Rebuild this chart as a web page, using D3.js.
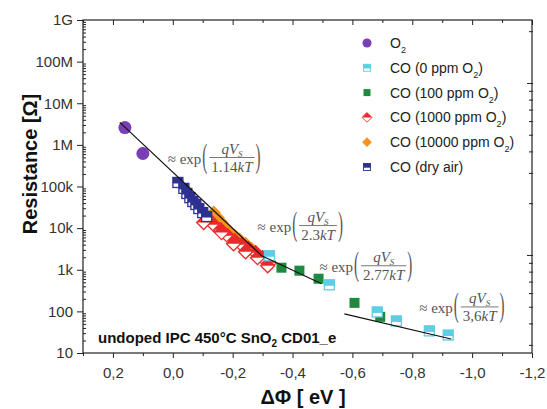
<!DOCTYPE html>
<html>
<head>
<meta charset="utf-8">
<script src="https://cdn.jsdelivr.net/npm/d3@7"></script>
<style>
  body { margin: 0; background: #fff; }
  svg { font-family: "Liberation Sans", Arial, sans-serif; }
  .serif { font-family: "Liberation Serif", "Times New Roman", serif; }
</style>
</head>
<body>
<svg id="chart" width="547" height="409"></svg>
<script>
// ---- values ----
const xTicks = [0.2, 0.0, -0.2, -0.4, -0.6, -0.8, -1.0, -1.2];
const yTicks = [1e1, 1e2, 1e3, 1e4, 1e5, 1e6, 1e7, 1e8, 1e9];
const yTickLabels = ["10", "100", "1k", "10k", "100k", "1M", "10M", "100M", "1G"];

// [deltaPhi (eV), resistance (ohm)]
const o2 = [[0.16, 2.6e6], [0.10, 6.2e5]];
const co0 = [[-0.323, 2170], [-0.523, 435], [-0.683, 97], [-0.747, 59], [-0.857, 34], [-0.92, 27]];
const co100 = [[-0.317, 1400], [-0.363, 1120], [-0.423, 950], [-0.487, 610], [-0.607, 160], [-0.693, 74]];
const co1000 = [[-0.117, 1.7e4], [-0.137, 1.2e4], [-0.16, 9200], [-0.183, 6600], [-0.207, 5000],
  [-0.23, 4000], [-0.253, 3200], [-0.277, 2570], [-0.30, 1950], [-0.323, 1480],
  [-0.103, 1.36e4], [-0.163, 7800], [-0.203, 4200], [-0.243, 2700], [-0.283, 1950], [-0.317, 1250]];
const co10000 = [[-0.137, 2.36e4], [-0.15, 1.8e4], [-0.163, 1.36e4], [-0.177, 1.03e4], [-0.19, 8200],
  [-0.207, 6600], [-0.223, 5300], [-0.243, 4200], [-0.263, 3200], [-0.31, 1650]];
const coDry = [[-0.017, 1.25e5], [-0.037, 9.0e4], [-0.047, 6.8e4], [-0.057, 5.4e4], [-0.067, 4.35e4],
  [-0.077, 3.7e4], [-0.087, 2.95e4], [-0.10, 2.36e4], [-0.113, 1.9e4]];

// fitted straight lines (end points)
const fit1 = [[0.177, 3.48e6], [-0.297, 2170]];
const fit2 = [[-0.297, 2170], [-0.497, 460]];
const fit3 = [[-0.573, 87], [-0.93, 21.7]];

// fit annotations: anchor and denominator factor
const annPhi = [0.017, -0.283, -0.49, -0.823];
const annR = [4.7e5, 1.09e4, 1180, 121];
const annFactor = ["1.14", "2.3", "2.77", "3,6"];

const legendNames = ["O|2", "CO (0 ppm O|2|)", "CO (100 ppm O|2|)", "CO (1000 ppm O|2|)", "CO (10000 ppm O|2|)", "CO (dry air)"];

// ---- chart ----
let svg = d3.select("#chart");
let pLeft = 83, pRight = 532, pTop = 20, pBottom = 353;

let x = d3.scaleLinear().domain([0.3, -1.2]).range([pLeft, pRight]);
let y = d3.scaleLog().domain([10, 1e9]).range([pBottom, pTop]);
let yRight = d3.scaleLog().domain([Math.pow(10, -0.57), Math.pow(10, 1.366)]).range([pBottom, pTop]);

let fmt = d => d3.format(".1f")(d).replace(".", ",").replace("\u2212", "-");
let minorX = d3.range(0.3, -1.21, -0.1).map(v => +v.toFixed(1)).filter(v => Math.round(v * 10) % 2 !== 0);
let minorY = [];
yTicks.slice(0, -1).forEach(d => { for (let k = 2; k < 10; k++) minorY.push(d * k); });

function styleAxis(g) {
  g.select(".domain").remove();
  g.selectAll("line").attr("stroke", "#222");
  g.selectAll("text").attr("fill", "#333").attr("font-size", 15);
}

// bottom
svg.append("g").attr("transform", `translate(0,${pBottom})`)
  .call(d3.axisBottom(x).tickValues(xTicks).tickSize(5).tickFormat(fmt))
  .call(styleAxis)
  .selectAll("text").attr("y", 14);
svg.append("g").attr("transform", `translate(0,${pBottom})`)
  .call(d3.axisBottom(x).tickValues(minorX).tickSize(3).tickFormat(""))
  .call(styleAxis);
// top
svg.append("g").attr("transform", `translate(0,${pTop})`)
  .call(d3.axisTop(x).tickValues(xTicks).tickSize(-5).tickFormat(""))
  .call(styleAxis);
svg.append("g").attr("transform", `translate(0,${pTop})`)
  .call(d3.axisTop(x).tickValues(minorX).tickSize(-3).tickFormat(""))
  .call(styleAxis);
// left
svg.append("g").attr("transform", `translate(${pLeft},0)`)
  .call(d3.axisLeft(y).tickValues(yTicks).tickSize(6).tickPadding(4).tickFormat((d, i) => yTickLabels[i]))
  .call(styleAxis);
svg.append("g").attr("transform", `translate(${pLeft},0)`)
  .call(d3.axisLeft(y).tickValues(minorY).tickSize(-3).tickFormat(""))
  .call(styleAxis);
// right (unlabelled)
let rTicks = yRight.ticks();
svg.append("g").attr("transform", `translate(${pRight},0)`)
  .call(d3.axisRight(yRight).tickValues(rTicks).tickFormat("").tickSize(0))
  .call(styleAxis)
  .selectAll(".tick line")
  .attr("x1", d => (Math.abs(Math.log10(d) % 1) < 1e-9 ? -5 : -3)).attr("x2", 1);

// frame
svg.append("rect").attr("x", pLeft).attr("y", pTop)
  .attr("width", pRight - pLeft).attr("height", pBottom - pTop)
  .attr("fill", "none").attr("stroke", "#222").attr("stroke-width", 1.2);

// axis titles
svg.append("text").attr("x", 303).attr("y", 404).attr("text-anchor", "middle")
  .attr("font-size", 20).attr("font-weight", "bold").attr("fill", "#111").text("\u0394\u03A6 [ eV ]");
svg.append("text").attr("transform", "translate(37,164) rotate(-90)").attr("text-anchor", "middle")
  .attr("font-size", 20).attr("font-weight", "bold").attr("fill", "#111").text("Resistance [\u03A9]");

// markers
const colors = {
  o2: "#7b3fb5", co0: "#5fcde4", co100: "#1d8a3e", co1000: "#ea2a2a", co10000: "#f7941d", dry: "#2e3192"
};

function marker(g, kind, color) {
  let s = 5, dd = 7;
  if (kind === "circle") {
    g.append("circle").attr("r", 6.5).attr("fill", color);
  } else if (kind === "square") {
    g.append("rect").attr("x", -s).attr("y", -s).attr("width", 2 * s).attr("height", 2 * s).attr("fill", color);
  } else if (kind === "halfSquare") {
    g.append("rect").attr("x", -s).attr("y", -s).attr("width", 2 * s).attr("height", 2 * s)
      .attr("fill", "#fff").attr("stroke", color).attr("stroke-width", 1.3);
    g.append("rect").attr("x", -s).attr("y", -s).attr("width", 2 * s).attr("height", s + 1).attr("fill", color);
  } else if (kind === "diamond") {
    g.append("path").attr("d", `M0,${-dd}L${dd},0L0,${dd}L${-dd},0Z`).attr("fill", color);
  } else if (kind === "halfDiamond") {
    g.append("path").attr("d", `M0,${-dd}L${dd},0L0,${dd}L${-dd},0Z`)
      .attr("fill", "#fff").attr("stroke", color).attr("stroke-width", 1.3);
    g.append("path").attr("d", `M${-dd},0L0,${-dd}L${dd},0Z`).attr("fill", color);
  }
}

const series = [
  { data: co100, kind: "square", color: colors.co100 },
  { data: co10000, kind: "diamond", color: colors.co10000 },
  { data: co1000, kind: "halfDiamond", color: colors.co1000 },
  { data: co0, kind: "halfSquare", color: colors.co0 },
  { data: coDry, kind: "halfSquare", color: colors.dry },
  { data: o2, kind: "circle", color: colors.o2 }
];

series.forEach(sr => {
  svg.append("g").selectAll("g").data(sr.data).enter().append("g")
    .attr("transform", d => `translate(${x(d[0])},${y(d[1])})`)
    .each(function () { marker(d3.select(this), sr.kind, sr.color); });
});

// fit lines
let line = d3.line().x(d => x(d[0])).y(d => y(d[1]));
[fit1, fit2, fit3].forEach(f => {
  svg.append("path").attr("d", line(f)).attr("fill", "none").attr("stroke", "#111").attr("stroke-width", 1.2);
});

// fit annotations
function formula(g, factor) {
  let col = "#555";
  let t = g.append("text").attr("class", "serif").attr("y", 5).attr("font-size", 15).attr("fill", col).text("\u2248 exp");
  let px = t.node().getComputedTextLength() + 1;
  g.append("text").attr("class", "serif").attr("font-size", 15).attr("fill", col)
    .attr("transform", `translate(${px},8) scale(1,2.3)`).text("(");
  let fx = px + 7;
  let num = g.append("text").attr("class", "serif").attr("font-size", 15).attr("fill", col)
    .attr("font-style", "italic").attr("y", -5).attr("text-anchor", "middle");
  num.append("tspan").text("qV");
  num.append("tspan").attr("font-size", 9).attr("dy", 3).text("S");
  let den = g.append("text").attr("class", "serif").attr("font-size", 15).attr("fill", col)
    .attr("y", 13).attr("text-anchor", "middle");
  den.append("tspan").text(factor);
  den.append("tspan").attr("font-style", "italic").text("kT");
  let fw = Math.max(num.node().getComputedTextLength(), den.node().getComputedTextLength()) + 4;
  num.attr("x", fx + fw / 2);
  den.attr("x", fx + fw / 2);
  g.append("line").attr("x1", fx).attr("x2", fx + fw).attr("y1", -1).attr("y2", -1)
    .attr("stroke", col).attr("stroke-width", 0.8);
  g.append("text").attr("class", "serif").attr("font-size", 15).attr("fill", col)
    .attr("transform", `translate(${fx + fw + 1},8) scale(1,2.3)`).text(")");
}

annPhi.forEach((p, i) => {
  let g = svg.append("g").attr("transform", `translate(${x(p)},${y(annR[i])})`);
  formula(g, annFactor[i]);
});

// sample label
let lab = svg.append("text").attr("x", 98).attr("y", 343).attr("font-size", 15)
  .attr("font-weight", "bold").attr("fill", "#111");
lab.append("tspan").text("undoped IPC 450\u00B0C SnO");
lab.append("tspan").attr("font-size", 10).attr("dy", 4).text("2");
lab.append("tspan").attr("dy", -4).text(" CD01_e");

// legend
const legendKinds = [
  ["circle", colors.o2], ["halfSquare", colors.co0], ["square", colors.co100],
  ["halfDiamond", colors.co1000], ["diamond", colors.co10000], ["halfSquare", colors.dry]
];
let leg = svg.append("g").attr("transform", "translate(367,43)");
legendNames.forEach((name, i) => {
  let row = leg.append("g").attr("transform", `translate(0,${i * 24.8})`);
  let m = row.append("g").attr("transform", "scale(0.7)");
  marker(m, legendKinds[i][0], legendKinds[i][1]);
  let t = row.append("text").attr("x", 23).attr("y", 5).attr("font-size", 14).attr("fill", "#222");
  name.split("|").forEach((part, j) => {
    if (j === 1) t.append("tspan").attr("font-size", 9).attr("dy", 5).text(part);
    else if (j === 2) t.append("tspan").attr("dy", -5).text(part);
    else t.append("tspan").text(part);
  });
});
</script>
</body>
</html>
